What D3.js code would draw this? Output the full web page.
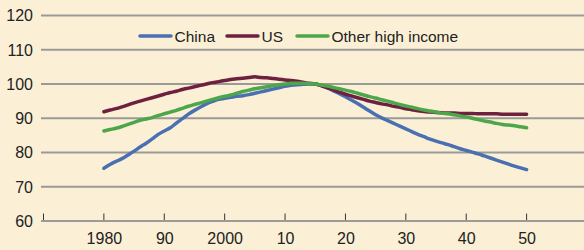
<!DOCTYPE html>
<html><head><meta charset="utf-8">
<script src="https://cdn.jsdelivr.net/npm/d3@7"></script>
<style>
html,body{margin:0;padding:0;background:#fbf0d6;}
svg{display:block;font-family:"Liberation Sans Narrow","Liberation Sans",Arial,sans-serif;}
</style></head><body>
<svg id="c" width="584" height="250"></svg>
<script>
const years = d3.range(1980, 2051);
const china = [75.4,76.5,77.4,78.2,79.3,80.4,81.6,82.7,84.0,85.3,86.3,87.2,88.6,89.9,91.2,92.3,93.3,94.2,94.9,95.5,95.8,96.1,96.4,96.6,96.9,97.3,97.7,98.1,98.5,98.9,99.3,99.6,99.8,99.9,100.0,100.0,99.6,98.9,98.0,97.2,96.3,95.3,94.3,93.2,92.1,91.0,90.1,89.3,88.5,87.7,86.9,86.1,85.3,84.6,83.9,83.3,82.8,82.3,81.7,81.1,80.6,80.1,79.6,79.0,78.4,77.8,77.2,76.6,76.0,75.5,75.0];
const us = [91.9,92.4,92.8,93.3,93.9,94.5,95.0,95.5,96.0,96.5,97.0,97.5,97.9,98.4,98.8,99.2,99.6,100.0,100.4,100.7,101.0,101.3,101.5,101.7,101.9,102.1,101.9,101.8,101.6,101.4,101.2,101.0,100.8,100.5,100.2,100.0,99.5,98.9,98.3,97.6,97.0,96.5,96.0,95.5,95.0,94.6,94.2,93.9,93.5,93.2,92.8,92.5,92.2,92.0,91.8,91.7,91.6,91.5,91.5,91.4,91.4,91.4,91.3,91.3,91.3,91.3,91.2,91.2,91.2,91.2,91.2];
const other = [86.3,86.7,87.1,87.6,88.2,88.8,89.4,89.8,90.2,90.8,91.3,91.8,92.3,92.9,93.5,94.0,94.5,95.0,95.5,96.0,96.4,96.8,97.3,97.8,98.2,98.6,98.9,99.2,99.5,99.8,100.0,100.2,100.2,100.2,100.1,100.0,99.7,99.4,99.0,98.6,98.2,97.8,97.3,96.8,96.3,95.9,95.4,95.0,94.5,94.0,93.6,93.2,92.8,92.4,92.1,91.8,91.5,91.3,91.0,90.7,90.4,90.0,89.6,89.2,88.9,88.5,88.2,88.0,87.8,87.5,87.2];
const seriesNames = ["China","US","Other high income"];
const seriesColors = ["#4a70b2","#6e213f","#4ea64b"];
const yTicks = [60,70,80,90,100,110,120];
const xTicks = [1970,1980,1990,2000,2010,2020,2030,2040,2050];
const xTickLabels = ["","1980","90","2000","10","20","30","40","50"];

const svg = d3.select("#c");
const x = d3.scaleLinear().domain([1970,2060]).range([43.5,587]);
const y = d3.scaleLinear().domain([60,120]).range([221,15.5]);
const grid = "#9a9a96";

svg.append("g").selectAll("line").data(yTicks.filter(d=>d>60)).join("line")
  .attr("x1",41).attr("x2",584).attr("y1",d=>y(d)).attr("y2",d=>y(d))
  .attr("stroke",grid).attr("stroke-width",2);
svg.append("g").selectAll("text").data(yTicks).join("text")
  .attr("x",33).attr("y",d=>y(d)).attr("dy","0.36em").attr("text-anchor","end")
  .attr("font-size",16).attr("fill","#222").text(d=>d);

const xAxis = d3.axisBottom(x).tickValues(xTicks).tickSize(0).tickFormat((d,i)=>xTickLabels[i]);
const gx = svg.append("g").attr("transform","translate(0,221)").call(xAxis);
gx.select(".domain").remove();
gx.selectAll("text").attr("font-size",16).attr("fill","#222").attr("y",12).attr("dy","0.71em").attr("font-family","inherit");
svg.append("line").attr("x1",41).attr("x2",584).attr("y1",221).attr("y2",221).attr("stroke",grid).attr("stroke-width",2);
svg.append("g").selectAll("line").data(xTicks).join("line")
  .attr("x1",d=>x(d)).attr("x2",d=>x(d)).attr("y1",213.5).attr("y2",220)
  .attr("stroke","#333").attr("stroke-width",1);

const data = [china, us, other];
const line = d3.line().x((d,i)=>x(years[i])).y(d=>y(d)).curve(d3.curveMonotoneX);
const order = [0,1,2];
svg.append("g").selectAll("path").data(order).join("path")
  .attr("d",k=>line(data[k])).attr("fill","none")
  .attr("stroke",k=>seriesColors[k]).attr("stroke-width",3.5)
  .attr("stroke-linejoin","round").attr("stroke-linecap","round");

const legX = [140,227,297];
const lg = svg.append("g");
seriesNames.forEach((n,i)=>{
  lg.append("line").attr("x1",legX[i]).attr("x2",legX[i]+31).attr("y1",36).attr("y2",36)
    .attr("stroke",seriesColors[i]).attr("stroke-width",3.5).attr("stroke-linecap","round");
  lg.append("text").attr("x",legX[i]+34.5).attr("y",36).attr("dy","0.36em")
    .attr("font-size",15.5).attr("fill","#222").text(n);
});
</script>
</body></html>
